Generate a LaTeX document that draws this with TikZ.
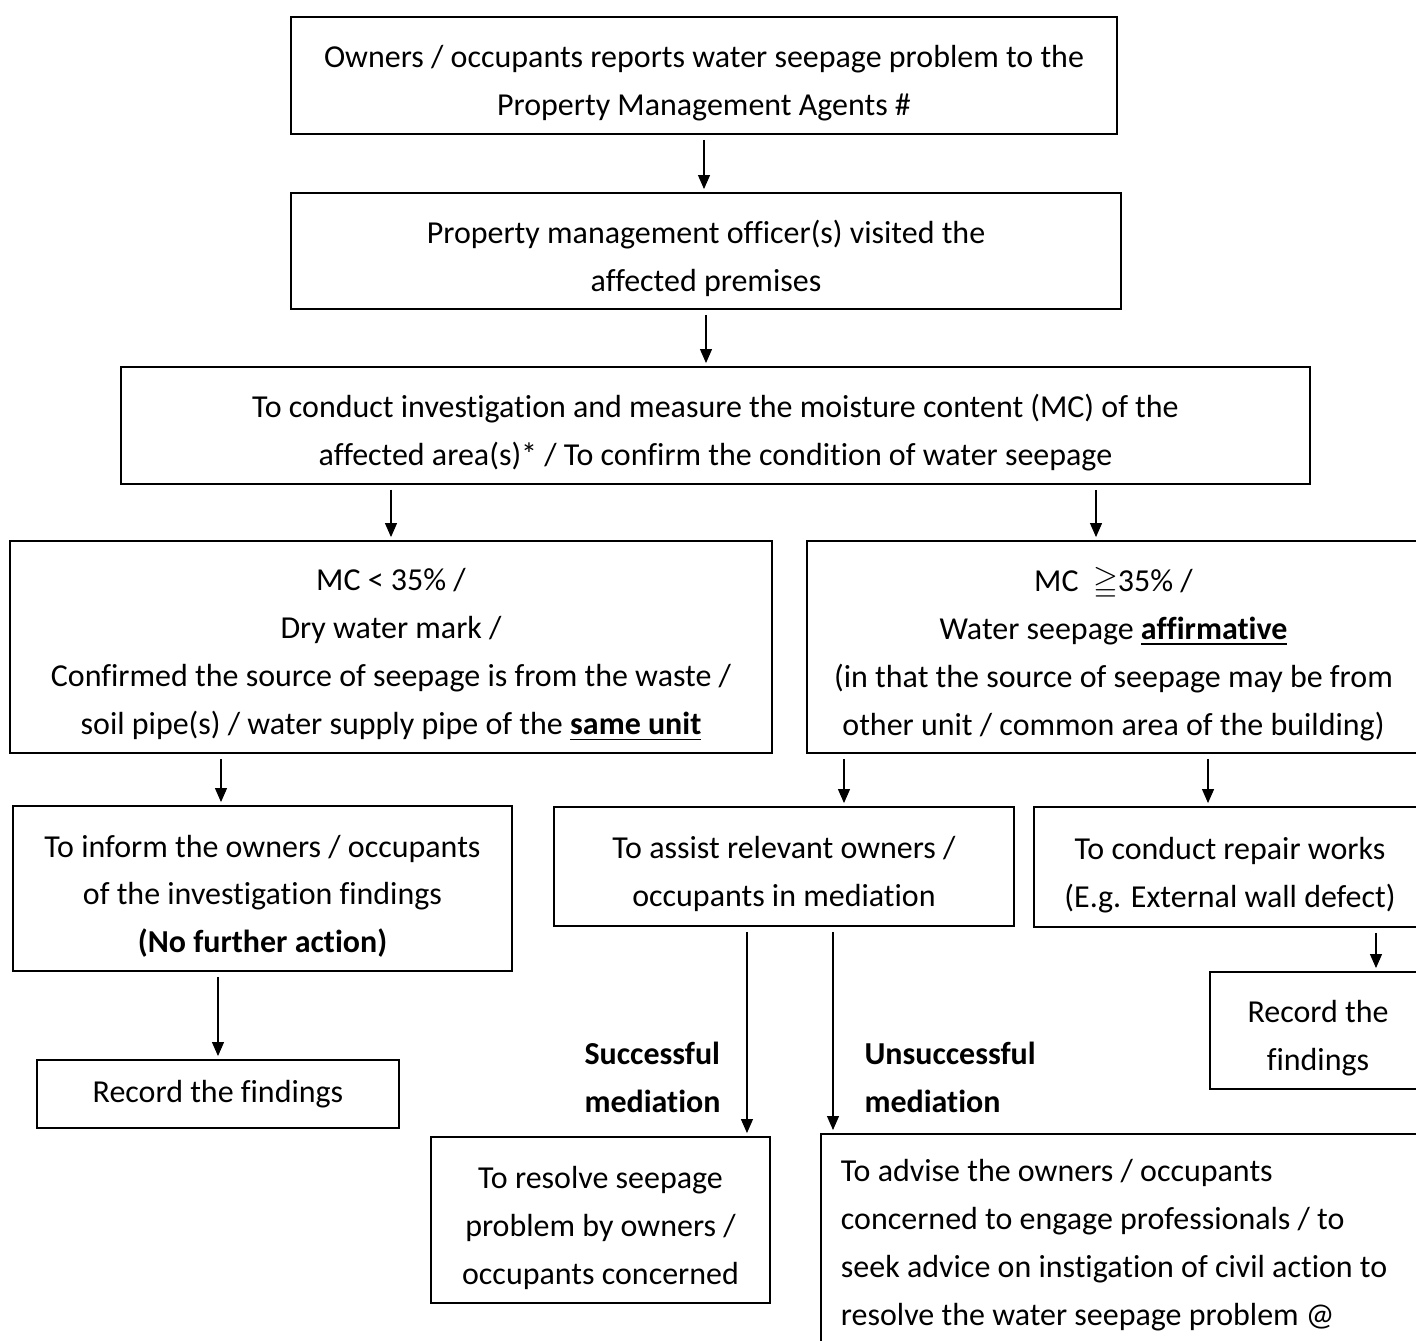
\documentclass[tikz,border=0pt]{standalone}
\usepackage{amssymb}
\usepackage{fontspec}
\setmainfont{Carlito}[Ligatures=NoCommon]
\usetikzlibrary{arrows.meta,positioning}

\newcommand{\tstrut}{\rule{0pt}{21.5pt}}

\begin{document}
\begin{tikzpicture}[
    x=0.02cm, y=-0.02cm,
    font=\fontsize{18.2}{27.3}\selectfont,
    box/.style={draw=black, line width=1.1pt, align=center, inner sep=0pt},
    arr/.style={-{Triangle[width=0.24cm,length=0.28cm]}, line width=0.6pt, shorten <=0.1cm, shorten >=0.06cm},
    lbl/.style={font=\fontsize{18.2}{27.3}\selectfont\bfseries, align=left, inner sep=0pt}
]
\useasboundingbox (0,0) rectangle (1416,1340);
\clip (0,0) rectangle (1416,1340);

\node[box, minimum width=16.52cm, minimum height=2.34cm] (report) at (704,75.5)
    {\tstrut Owners / occupants reports water seepage problem to the\\Property Management Agents \#};
\node[box, minimum width=16.6cm, minimum height=2.32cm] (visit) at (706,251)
    {\tstrut Property management officer(s) visited the\\affected premises};
\node[box, minimum width=23.78cm, minimum height=2.34cm] (measure) at (715.5,425.5)
    {\tstrut To conduct investigation and measure the moisture content (MC) of the\\affected area(s)* / To confirm the condition of water seepage};

\node[box, minimum width=15.24cm, minimum height=4.24cm] (dry) at (391,647)
    {\tstrut MC < 35\% /\\Dry water mark /\\Confirmed the source of seepage is from the waste /\\soil pipe(s) / water supply pipe of the \textbf{\underline{same unit}}};
\node[box, minimum width=12.26cm, minimum height=4.24cm] (wet) at (1113.5,647)
    {\tstrut MC \ $\geqq$35\% /\\Water seepage \textbf{\underline{affirmative}}\\(in that the source of seepage may be from\\other unit / common area of the building)};

\node[box, minimum width=9.98cm, minimum height=3.3cm] (inform) at (262.5,888.5)
    {\tstrut To inform the owners / occupants\\of the investigation findings\\\textbf{(No further action)}};
\node[box, minimum width=7.24cm, minimum height=1.36cm] (recordl) at (218,1094) {Record the findings};
\node[box, minimum width=9.2cm, minimum height=2.38cm] (mediate) at (784,866.5)
    {\tstrut To assist relevant owners /\\occupants in mediation};
\node[box, minimum width=7.84cm, minimum height=2.4cm] (repair) at (1230,867)
    {\tstrut To conduct repair works\\(E.g. External wall defect)};
\node[box, minimum width=4.32cm, minimum height=2.34cm] (recordr) at (1318,1030.5) {\tstrut Record the\\findings};
\node[box, minimum width=6.78cm, minimum height=3.32cm] (resolve) at (600.5,1220)
    {\tstrut To resolve seepage\\problem by owners /\\occupants concerned};
\node[box, anchor=north west, text width=12cm, inner xsep=0.4cm, inner ysep=0.51cm, align=flush left] (advise) at (820,1133)
    {To advise the owners / occupants\\concerned to engage professionals / to\\seek advice on instigation of civil action to\\resolve the water seepage problem @};

% connectors
\draw[arr] (report.south) -- (report.south |- visit.north);
\draw[arr] (visit.south) -- (visit.south |- measure.north);
\draw[arr] (measure.south -| dry.north) -- (dry.north);
\coordinate (wetin) at ([xshift=-0.35cm]wet.north);
\draw[arr] (measure.south -| wetin) -- (wetin);
\coordinate (informin) at ([xshift=-0.83cm]inform.north);
\draw[arr] (dry.south -| informin) -- (informin);
\coordinate (mediatein) at ([xshift=1.2cm]mediate.north);
\draw[arr] (wet.south -| mediatein) -- (mediatein);
\coordinate (repairin) at ([xshift=-0.44cm]repair.north);
\draw[arr] (wet.south -| repairin) -- (repairin);
\draw[arr] (inform.south -| recordl.north) -- (recordl.north);
\coordinate (recordrin) at ([xshift=1.16cm]recordr.north);
\draw[arr] (repair.south -| recordrin) -- (recordrin);
\coordinate (resolvein) at ([xshift=2.93cm]resolve.north);
\draw[arr] (mediate.south -| resolvein) -- (resolvein)
    node[lbl, pos=0.72, left=0.52cm] {Successful\\mediation};
\coordinate (advisein) at ([xshift=0.26cm]advise.north west);
\draw[arr] (mediate.south -| advisein) -- (advisein)
    node[lbl, pos=0.73, right=0.62cm] {Unsuccessful\\mediation};

\end{tikzpicture}
\end{document}
